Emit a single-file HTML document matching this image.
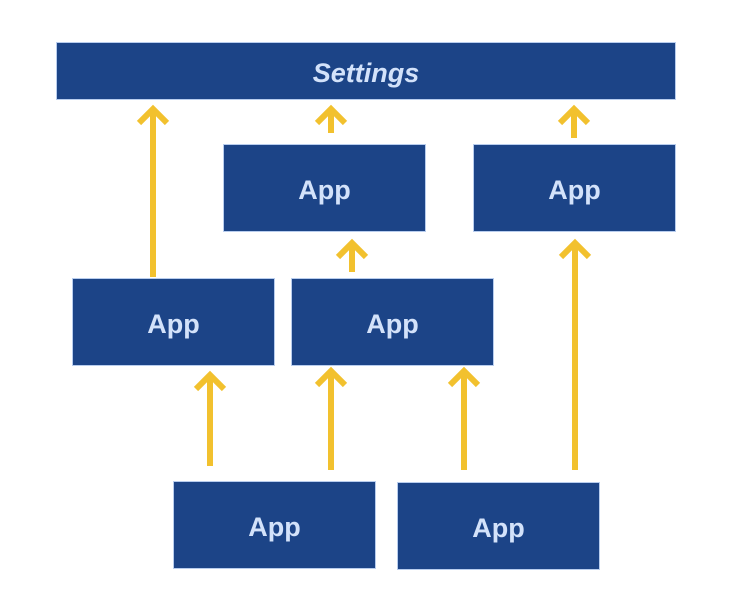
<!DOCTYPE html>
<html><head><style>
body{margin:0;width:742px;height:613px;background:#fff;position:relative;overflow:hidden;font-family:"Liberation Sans","DejaVu Sans",sans-serif}
.b{position:absolute;background:#1c4487;border:1px solid #b8cdee;box-sizing:border-box;color:#d3e2fa;font-size:27px;font-weight:bold;display:flex;align-items:center;justify-content:center;padding-top:4px}
svg{position:absolute;left:0;top:0}
</style></head><body>
<div class="b" style="left:56px;top:42px;width:620px;height:58px;font-style:italic">Settings</div>
<div class="b" style="left:223px;top:144px;width:203px;height:88px">App</div>
<div class="b" style="left:473px;top:144px;width:203px;height:88px">App</div>
<div class="b" style="left:72px;top:278px;width:203px;height:88px">App</div>
<div class="b" style="left:291px;top:278px;width:203px;height:88px">App</div>
<div class="b" style="left:173px;top:481px;width:203px;height:88px">App</div>
<div class="b" style="left:397px;top:482px;width:203px;height:88px">App</div>
<svg width="742" height="613" fill="none" stroke="#f2c12e" stroke-width="6">
<g>
<path d="M153 277V110M139 123L153 109L167 123"/>
<path d="M331 133V110M317 123L331 109L345 123"/>
<path d="M574 138V110M560 123L574 109L588 123"/>
<path d="M352 272V244M338 257L352 243L366 257"/>
<path d="M575 470V244M561 257L575 243L589 257"/>
<path d="M210 466V376M196 389L210 375L224 389"/>
<path d="M331 470V372M317 385L331 371L345 385"/>
<path d="M464 470V372M450 385L464 371L478 385"/>
</g></svg>
</body></html>
